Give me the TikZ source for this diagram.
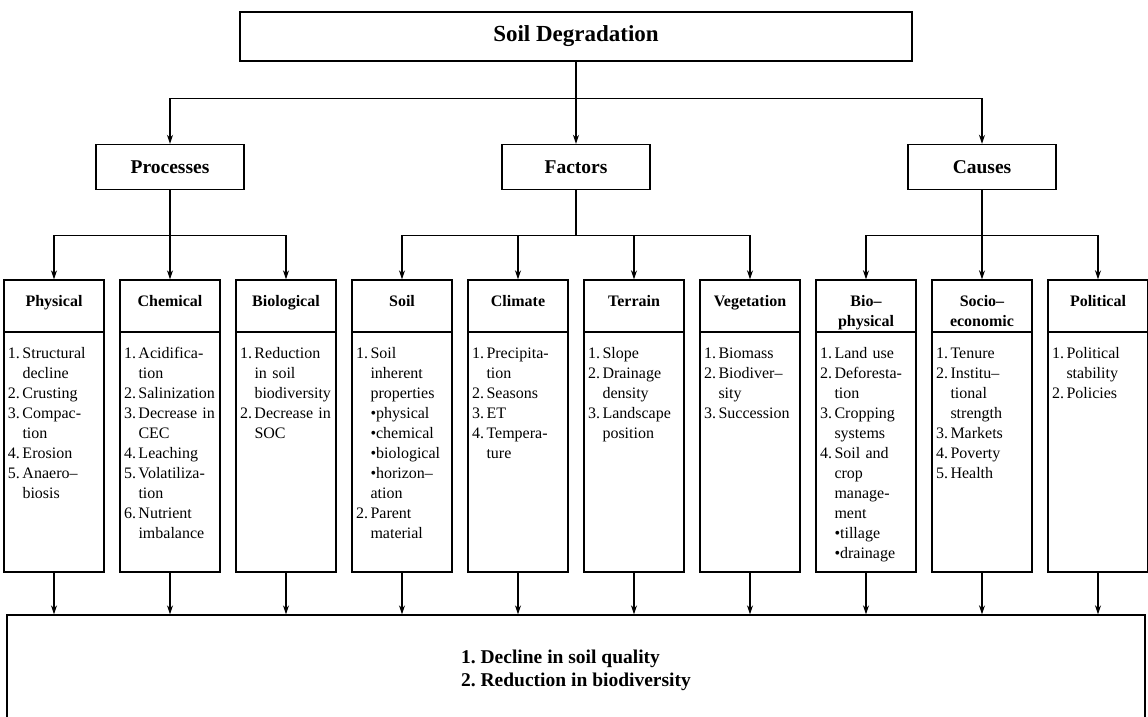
\documentclass[tikz,border=0pt]{standalone}
\usepackage{fontspec}
\setmainfont{Liberation Serif}
\usepackage{tikz}
\usetikzlibrary{arrows.meta}
\tikzstyle{topbox} = [font=\bfseries\fontsize{23pt}{27pt}\selectfont, rectangle, minimum width=672pt, minimum height=49pt, draw=black, line width=1.4pt]
\tikzstyle{groupbox} = [font=\bfseries\fontsize{19.5pt}{23pt}\selectfont, rectangle, minimum width=148pt, minimum height=45pt, draw=black, line width=1.4pt]
\tikzstyle{headbox} = [font=\bfseries\fontsize{16pt}{20pt}\selectfont, rectangle, text width=92pt, align=center, inner xsep=4pt, inner ysep=9pt, text height=17pt, text depth=17pt, draw=black, line width=1.4pt]
\tikzstyle{listbox} = [font=\fontsize{16pt}{20pt}\selectfont, rectangle, text width=92pt, align=left, inner xsep=4pt, inner ysep=0pt, text height=26pt, text depth=214pt, draw=black, line width=1.4pt]
\tikzstyle{resultbox} = [font=\bfseries\fontsize{19.5pt}{23pt}\selectfont, rectangle, minimum width=1138pt, minimum height=110pt, align=left, draw=black, line width=1.4pt]
\tikzstyle{arrow} = [line width=1.2pt,->,>={Stealth[length=9pt,width=6pt]}]
\newcommand{\points}[1]{\begin{tabular}[t]{@{}l@{\hspace{2.5pt}}l@{}}#1\end{tabular}}

\begin{document}
\begin{tikzpicture}[node distance=116pt]
  \path[use as bounding box, clip] (0,0) rectangle (1148pt,-716pt);
  \node (degradation) [topbox] at (576pt,-36.5pt) {Soil Degradation};
  \node (factors) [groupbox, below of=degradation, yshift=-14.5pt] {Factors};
  \node (processes) [groupbox, left of=factors, xshift=-290pt] {Processes};
  \node (causes) [groupbox, right of=factors, xshift=290pt] {Causes};

  \node (physical) [headbox, below of=processes, xshift=-116pt, yshift=-23pt] {Physical};
  \node (chemical) [headbox, right of=physical] {Chemical};
  \node (biological) [headbox, right of=chemical] {Biological};
  \node (soil) [headbox, right of=biological] {Soil};
  \node (climate) [headbox, right of=soil] {Climate};
  \node (terrain) [headbox, right of=climate] {Terrain};
  \node (vegetation) [headbox, right of=terrain] {Vegetation};
  \node (biophysical) [headbox, right of=vegetation] {Bio--\\physical};
  \node (socio) [headbox, right of=biophysical] {Socio--\\economic};
  \node (political) [headbox, right of=socio] {Political};

  \node (physical list) [listbox, below of=physical, yshift=-30pt]{\points{
    1. & Structural\\ & decline\\
    2. & Crusting\\
    3. & Compac-\\ & tion\\
    4. & Erosion\\
    5. & Anaero--\\ & biosis}};
  \node (chemical list) [listbox, below of=chemical, yshift=-30pt]{\points{
    1. & Acidifica-\\ & tion\\
    2. & Salinization\\
    3. & Decrease in\\ & CEC\\
    4. & Leaching\\
    5. & Volatiliza-\\ & tion\\
    6. & Nutrient\\ & imbalance}};
  \node (biological list) [listbox, below of=biological, yshift=-30pt]{\points{
    1. & Reduction\\ & in soil\\ & biodiversity\\
    2. & Decrease in\\ & SOC}};
  \node (soil list) [listbox, below of=soil, yshift=-30pt]{\points{
    1. & Soil\\ & inherent\\ & properties\\ & •physical\\ & •chemical\\
       & •biological\\ & •horizon--\\ & ation\\
    2. & Parent\\ & material}};
  \node (climate list) [listbox, below of=climate, yshift=-30pt]{\points{
    1. & Precipita-\\ & tion\\
    2. & Seasons\\
    3. & ET\\
    4. & Tempera-\\ & ture}};
  \node (terrain list) [listbox, below of=terrain, yshift=-30pt]{\points{
    1. & Slope\\
    2. & Drainage\\ & density\\
    3. & Landscape\\ & position}};
  \node (vegetation list) [listbox, below of=vegetation, yshift=-30pt]{\points{
    1. & Biomass\\
    2. & Biodiver--\\ & sity\\
    3. & Succession}};
  \node (biophysical list) [listbox, below of=biophysical, yshift=-30pt]{\points{
    1. & Land use\\
    2. & Deforesta-\\ & tion\\
    3. & Cropping\\ & systems\\
    4. & Soil and\\ & crop\\ & manage-\\ & ment\\ & •tillage\\ & •drainage}};
  \node (socio list) [listbox, below of=socio, yshift=-30pt]{\points{
    1. & Tenure\\
    2. & Institu--\\ & tional\\ & strength\\
    3. & Markets\\
    4. & Poverty\\
    5. & Health}};
  \node (political list) [listbox, below of=political, yshift=-30pt]{\points{
    1. & Political\\ & stability\\
    2. & Policies}};

  \node (result) [resultbox, below of=degradation, yshift=-517.5pt]{1.\ Decline in soil quality\\
    2.\ Reduction in biodiversity};

  \draw[arrow](degradation) -- (factors);
  \draw[arrow](degradation.south) -- ++(0,-37pt) -| (processes.north);
  \draw[arrow](degradation.south) -- ++(0,-37pt) -| (causes.north);

  \draw[arrow](processes) -- (chemical);
  \draw[arrow](processes.south) -- ++(0,-45pt) -| (physical.north);
  \draw[arrow](processes.south) -- ++(0,-45pt) -| (biological.north);
  \draw[arrow](factors.south) -- ++(0,-45pt) -| (soil.north);
  \draw[arrow](factors.south) -- ++(0,-45pt) -| (climate.north);
  \draw[arrow](factors.south) -- ++(0,-45pt) -| (terrain.north);
  \draw[arrow](factors.south) -- ++(0,-45pt) -| (vegetation.north);
  \draw[arrow](causes) -- (socio);
  \draw[arrow](causes.south) -- ++(0,-45pt) -| (biophysical.north);
  \draw[arrow](causes.south) -- ++(0,-45pt) -| (political.north);

  \draw[arrow](physical list.south) -- (physical list.south |- result.north);
  \draw[arrow](chemical list.south) -- (chemical list.south |- result.north);
  \draw[arrow](biological list.south) -- (biological list.south |- result.north);
  \draw[arrow](soil list.south) -- (soil list.south |- result.north);
  \draw[arrow](climate list.south) -- (climate list.south |- result.north);
  \draw[arrow](terrain list.south) -- (terrain list.south |- result.north);
  \draw[arrow](vegetation list.south) -- (vegetation list.south |- result.north);
  \draw[arrow](biophysical list.south) -- (biophysical list.south |- result.north);
  \draw[arrow](socio list.south) -- (socio list.south |- result.north);
  \draw[arrow](political list.south) -- (political list.south |- result.north);
\end{tikzpicture}
\end{document}
